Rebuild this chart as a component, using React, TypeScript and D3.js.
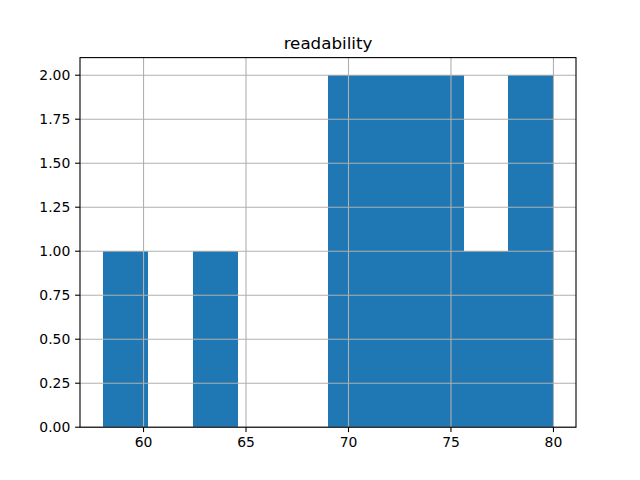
import React from "react";
import * as d3 from "d3";

const title = "readability";
const values = [58, 63, 69.5, 70.5, 72, 73, 74, 75, 77, 78.5, 80];
const binCount = 10;
const xTicks = [60, 65, 70, 75, 80];
const yTicks = [0, 0.25, 0.5, 0.75, 1.0, 1.25, 1.5, 1.75, 2.0];

const W = 640, H = 480;
const L = 80, R = 576, T = 57.6, B = 427.2;

export default function App() {
  const [mn, mx] = d3.extent(values) as [number, number];
  const step = (mx - mn) / binCount;
  const thresholds = d3.range(1, binCount).map((i) => mn + step * i);
  const bins = d3.bin().domain([mn, mx]).thresholds(thresholds)(values);
  const edges = d3.range(0, binCount + 1).map((i) => mn + step * i);
  const counts = edges.slice(0, -1).map((e, i) => bins[i] ? bins[i].length : 0);
  const maxC = d3.max(counts) as number;
  const pad = (mx - mn) * 0.05;
  const x = d3.scaleLinear().domain([mn - pad, mx + pad]).range([L, R]);
  const y = d3.scaleLinear().domain([0, maxC * 1.05]).range([B, T]);
  const font = "DejaVu Sans, sans-serif";
  return (
    <svg width={W} height={H} style={{ position: "absolute", left: 0, top: 0 }}>
      <rect width={W} height={H} fill="#fff" />
      <g shapeRendering="crispEdges">
        {counts.map((c, i) => (
          <rect key={i} x={x(edges[i])} y={y(c)} width={x(edges[i + 1]) - x(edges[i]) + (i < binCount - 1 ? 0.5 : 0)} height={B - y(c)} fill="#1f77b4" />
        ))}
      </g>
      {xTicks.map((t) => (
        <line key={"gx" + t} x1={x(t)} x2={x(t)} y1={T} y2={B} stroke="#b0b0b0" strokeWidth={1.1} />
      ))}
      {yTicks.map((t) => (
        <line key={"gy" + t} x1={L} x2={R} y1={y(t)} y2={y(t)} stroke="#b0b0b0" strokeWidth={1.1} />
      ))}
      <rect x={L} y={T} width={R - L} height={B - T} fill="none" stroke="#000" strokeWidth={1.1} />
      {xTicks.map((t) => (
        <g key={"xt" + t}>
          <line x1={x(t)} x2={x(t)} y1={B} y2={B + 4.9} stroke="#000" strokeWidth={1.1} />
          <text x={x(t)} y={B + 20} textAnchor="middle" fontSize={13.9} fontFamily={font}>{t}</text>
        </g>
      ))}
      {yTicks.map((t) => (
        <g key={"yt" + t}>
          <line x1={L - 4.9} x2={L} y1={y(t)} y2={y(t)} stroke="#000" strokeWidth={1.1} />
          <text x={L - 9.7} y={y(t)} dy="0.36em" textAnchor="end" fontSize={13.9} fontFamily={font}>{t.toFixed(2)}</text>
        </g>
      ))}
      <text x={(L + R) / 2} y={T - 9} textAnchor="middle" fontSize={16.7} fontFamily={font}>{title}</text>
    </svg>
  );
}
